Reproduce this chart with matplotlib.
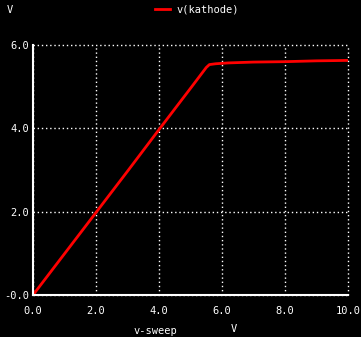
import matplotlib
matplotlib.use("Agg")
import matplotlib.pyplot as plt

# data (v-sweep vs v(kathode))
sweep = [0.0, 1.0, 2.0, 3.0, 4.0, 5.0, 5.5, 5.6, 5.8, 6.2, 7.0, 8.0, 9.0, 10.0]
kathode = [0.0, 0.99, 1.98, 2.97, 3.97, 4.96, 5.46, 5.53, 5.55, 5.57, 5.59, 5.60, 5.62, 5.63]
xticks = [0, 2, 4, 6, 8, 10]
xlabels = ["0.0", "2.0", "4.0", "6.0", "8.0", "10.0"]
yticks = [0, 2, 4, 6]
ylabels = ["-0.0", "2.0", "4.0", "6.0"]

font = "DejaVu Sans Mono"
fs = 7.5

fig = plt.figure(figsize=(3.61, 3.37), dpi=100, facecolor="black")
ax = fig.add_axes([33/361, 42/337, 315/361, 250/337])
ax.set_facecolor("black")

ax.plot(sweep, kathode, color="#ff0000", linewidth=2, label="v(kathode)")

ax.set_xlim(0, 10)
ax.set_ylim(0, 6)
ax.set_xticks(xticks)
ax.set_xticklabels(xlabels, family=font, fontsize=fs, color="white")
ax.set_yticks(yticks)
ax.set_yticklabels(ylabels, family=font, fontsize=fs, color="white")
ax.tick_params(length=0)
ax.tick_params(axis="x", pad=8)
ax.tick_params(axis="y", pad=3)

ax.grid(True, color="white", linestyle=(0, (1, 2)), linewidth=1)
for gl in ax.get_xgridlines() + ax.get_ygridlines():
    gl.set_clip_on(False)
for s in ["top", "right"]:
    ax.spines[s].set_visible(False)
for s in ["left", "bottom"]:
    ax.spines[s].set_color("white")
    ax.spines[s].set_linewidth(1.5)
    ax.spines[s].set_zorder(3)

fig.text(7/361, 1 - 10/337, "V", family=font, fontsize=fs, color="white", va="center")
fig.text(133/361, 1 - 331/337, "v-sweep", family=font, fontsize=fs, color="white", va="center")
fig.text(231/361, 1 - 329/337, "V", family=font, fontsize=fs, color="white", va="center")

leg = fig.legend(loc="center", bbox_to_anchor=(197/361, 1 - 10/337), frameon=False,
                 prop={"family": font, "size": fs}, handlelength=1.5, handletextpad=0.6)
for t in leg.get_texts():
    t.set_color("white")

fig.savefig("out.png", dpi=100, facecolor="black")
